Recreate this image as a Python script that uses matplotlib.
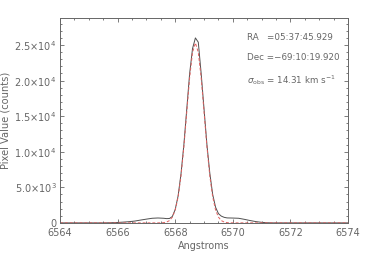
import matplotlib
matplotlib.use("Agg")
import matplotlib.pyplot as plt
from matplotlib.ticker import MultipleLocator, FixedLocator

# Observed spectrum (black)
obs_wave = [6564.0, 6565.5, 6565.6, 6565.8, 6566.0, 6566.2, 6566.4, 6566.6, 6566.8,
            6567.0, 6567.2, 6567.4, 6567.6, 6567.7, 6567.8, 6567.9, 6568.0, 6568.1,
            6568.2, 6568.3, 6568.4, 6568.5, 6568.6, 6568.7, 6568.8, 6568.9, 6569.0,
            6569.1, 6569.2, 6569.3, 6569.4, 6569.5, 6569.6, 6569.7, 6569.8, 6570.0,
            6570.2, 6570.4, 6570.6, 6570.8, 6571.0, 6571.2, 6571.4, 6574.0]
obs_flux = [0, 0, 10, 30, 60, 110, 170, 260, 400,
            530, 650, 690, 650, 600, 620, 900, 1900, 3800,
            6900, 11000, 16000, 21000, 24500, 26000, 25400, 21000, 16000,
            11000, 7000, 4000, 2200, 1300, 950, 780, 700, 680,
            650, 500, 330, 180, 80, 20, 0, 0]

# Gaussian fit (red dashed)
fit_wave = [6564.0, 6567.4, 6567.5, 6567.6, 6567.7, 6567.8, 6567.9, 6568.0, 6568.1,
            6568.2, 6568.3, 6568.4, 6568.5, 6568.6, 6568.7, 6568.8, 6568.9, 6569.0,
            6569.1, 6569.2, 6569.3, 6569.4, 6569.5, 6569.6, 6569.7, 6569.8, 6569.9,
            6570.0, 6574.0]
fit_flux = [0, 4, 11, 38, 117, 325, 811, 1816, 3654,
            6601, 10707, 15597, 20404, 23977, 25300, 23977, 20404, 15597,
            10707, 6601, 3654, 1816, 811, 325, 117, 38, 11,
            4, 0]

xticks = [6564, 6566, 6568, 6570, 6572, 6574]
yticks = [0, 5000, 10000, 15000, 20000, 25000]
ytick_labels = ["0", r"5.0$\times$10$^3$", r"1.0$\times$10$^4$", r"1.5$\times$10$^4$",
                r"2.0$\times$10$^4$", r"2.5$\times$10$^4$"]
info_lines = ["RA   =05:37:45.929", "Dec =\u221269:10:19.920",
              r"$\sigma_{\rm obs}$ = 14.31 km s$^{-1}$"]

plt.rcParams['font.family'] = ['DejaVu Sans']
plt.rcParams['mathtext.fontset'] = 'dejavusans'

gray = '#666666'
fig = plt.figure(figsize=(3.66, 2.61), dpi=100)
ax = fig.add_axes([0.164, 0.146, 0.787, 0.785])

ax.plot(obs_wave, obs_flux, color='#505050', lw=0.7)
ax.plot(fit_wave, fit_flux, color='#e06060', lw=0.7, dashes=(3, 2))

ax.set_xlim(6564, 6574)
ax.set_ylim(0, 28800)
ax.xaxis.set_major_locator(FixedLocator(xticks))
ax.xaxis.set_minor_locator(MultipleLocator(0.5))
ax.yaxis.set_major_locator(FixedLocator(yticks))
ax.yaxis.set_minor_locator(MultipleLocator(1000))
ax.set_xticklabels([str(t) for t in xticks])
ax.set_yticklabels(ytick_labels)

ax.tick_params(which='both', direction='in', top=True, right=True, colors=gray,
               labelsize=7, labelcolor=gray, width=0.6)
ax.tick_params(which='major', length=3)
ax.tick_params(which='minor', length=1.5)
ax.tick_params(axis='y', which='major', pad=2.5)
ax.tick_params(axis='x', which='major', pad=4)
for s in ax.spines.values():
    s.set_color(gray)
    s.set_linewidth(0.7)

ax.set_xlabel("Angstroms", fontsize=6.9, color=gray, labelpad=2)
ax.set_ylabel("Pixel Value (counts)", fontsize=7.1, color=gray, labelpad=3)

ys = [0.907, 0.805, 0.698]
for t, y in zip(info_lines, ys):
    ax.text(0.649, y, t, transform=ax.transAxes, fontsize=6.3, color=gray,
            va='center', ha='left')

fig.savefig("out.png", dpi=100)
